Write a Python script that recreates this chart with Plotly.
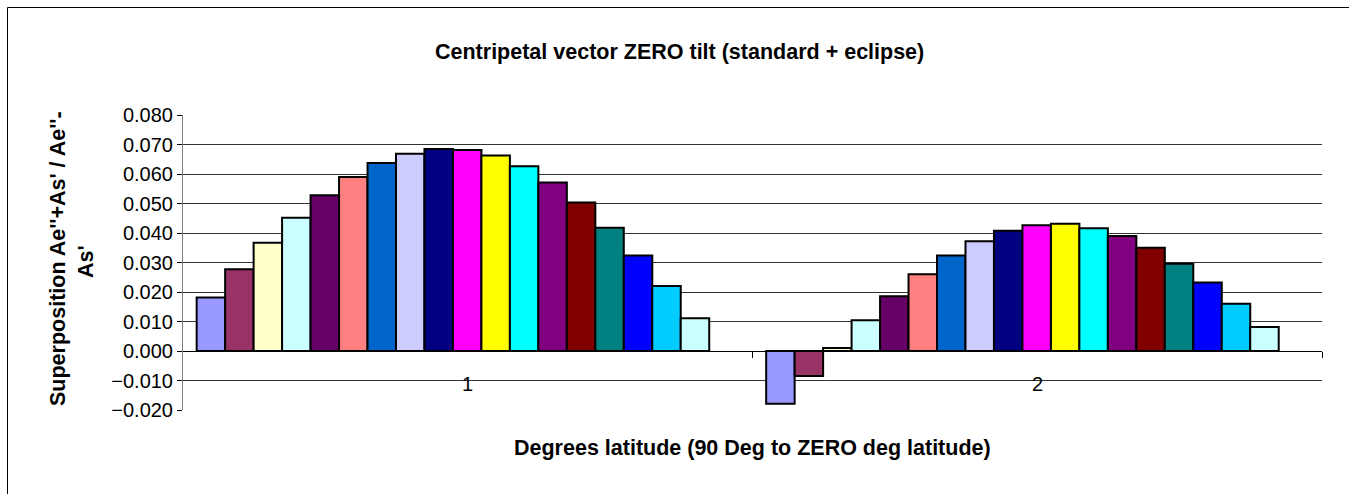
import plotly.graph_objects as go

categories = ["1", "2"]
series_names = [f"Series{i}" for i in range(1, 19)]
series_colors = ["#9999FF", "#993366", "#FFFFCC", "#CCFFFF", "#660066", "#FF8080",
                 "#0066CC", "#CCCCFF", "#000080", "#FF00FF", "#FFFF00", "#00FFFF",
                 "#800080", "#800000", "#008080", "#0000FF", "#00CCFF", "#CCFFFF"]
group1_values = [0.0181, 0.0277, 0.0367, 0.0452, 0.0528, 0.0590, 0.0637, 0.0669, 0.0685,
                 0.0681, 0.0663, 0.0626, 0.0571, 0.0503, 0.0418, 0.0324, 0.0220, 0.0111]
group2_values = [-0.0179, -0.0085, 0.0010, 0.0104, 0.0186, 0.0260, 0.0324, 0.0372, 0.0408,
                 0.0426, 0.0431, 0.0416, 0.0390, 0.0350, 0.0296, 0.0232, 0.0160, 0.0081]
y_tickvals = [-0.02, -0.01, 0.0, 0.01, 0.02, 0.03, 0.04, 0.05, 0.06, 0.07, 0.08]

FONT = "Liberation Sans, Arial, sans-serif"
TICK_SIZE = 20
TITLE_SIZE = 21.5
W, H = 1349, 494
L, R, T, B = 183, 27, 115, 84
pw, ph = W - L - R, H - T - B

def px2paper_x(px):
    return (px - L) / pw

def px2paper_y(py):
    return (H - B - py) / ph

shift = 0.026
cat_x = [i for i in range(len(categories))]

fig = go.Figure()
for i, name in enumerate(series_names):
    fig.add_trace(go.Bar(
        x=cat_x, y=[group1_values[i], group2_values[i]], name=name,
        marker=dict(color=series_colors[i], line=dict(color="#000000", width=2)),
    ))

annotations = [
    dict(text="<b>Centripetal vector ZERO tilt (standard + eclipse)</b>", xref="paper", yref="paper",
         x=px2paper_x(679), y=px2paper_y(52), showarrow=False, xanchor="center", yanchor="middle",
         font=dict(family=FONT, size=TITLE_SIZE, color="#000")),
    dict(text="<b>Degrees latitude (90 Deg to ZERO deg latitude)</b>", xref="paper", yref="paper",
         x=px2paper_x(752), y=px2paper_y(448), showarrow=False, xanchor="center", yanchor="middle",
         font=dict(family=FONT, size=TITLE_SIZE, color="#000")),
    dict(text="<b>Superposition Ae''+As' / Ae''-</b>", xref="paper", yref="paper",
         x=px2paper_x(58), y=px2paper_y(259), showarrow=False, textangle=-90,
         xanchor="center", yanchor="middle", font=dict(family=FONT, size=TITLE_SIZE, color="#000")),
    dict(text="<b>As'</b>", xref="paper", yref="paper",
         x=px2paper_x(86), y=px2paper_y(262), showarrow=False, textangle=-90,
         xanchor="center", yanchor="middle", font=dict(family=FONT, size=TITLE_SIZE, color="#000")),
]
for i, lab in enumerate(categories):
    annotations.append(dict(text=lab, x=cat_x[i] + shift, y=-0.0113, xref="x", yref="y",
                            showarrow=False, xanchor="center", yanchor="middle",
                            font=dict(family=FONT, size=TICK_SIZE, color="#000")))

shapes = [
    dict(type="rect", xref="paper", yref="paper",
         x0=px2paper_x(7.5), x1=px2paper_x(1380), y0=px2paper_y(520), y1=px2paper_y(7.5),
         line=dict(color="#000000", width=1), fillcolor="rgba(0,0,0,0)", layer="below"),
]

fig.update_layout(
    width=W, height=H, margin=dict(l=L, r=R, t=T, b=B),
    paper_bgcolor="white", plot_bgcolor="white",
    barmode="group", bargap=0.1, bargroupgap=0,
    showlegend=False,
    font=dict(family=FONT, size=TICK_SIZE, color="#000"),
    annotations=annotations, shapes=shapes,
    xaxis=dict(range=[-0.5 + shift, 1.5 + shift], anchor="free", position=0.2,
               showline=True, linecolor="#000000", linewidth=1,
               tickmode="array", tickvals=[0.5 + shift, 1.5 + shift], showticklabels=False,
               ticks="outside", ticklen=6, tickcolor="#000000",
               showgrid=False, zeroline=False),
    yaxis=dict(range=[-0.02, 0.08], tickmode="array", tickvals=y_tickvals,
               tickformat=".3f", showline=True, linecolor="#808080", linewidth=1,
               ticks="outside", ticklen=5, tickcolor="#000000",
               showgrid=True, gridcolor="#333333", gridwidth=1, zeroline=False,
               tickfont=dict(family=FONT, size=TICK_SIZE, color="#000")),
)

fig.write_html("out.html")
